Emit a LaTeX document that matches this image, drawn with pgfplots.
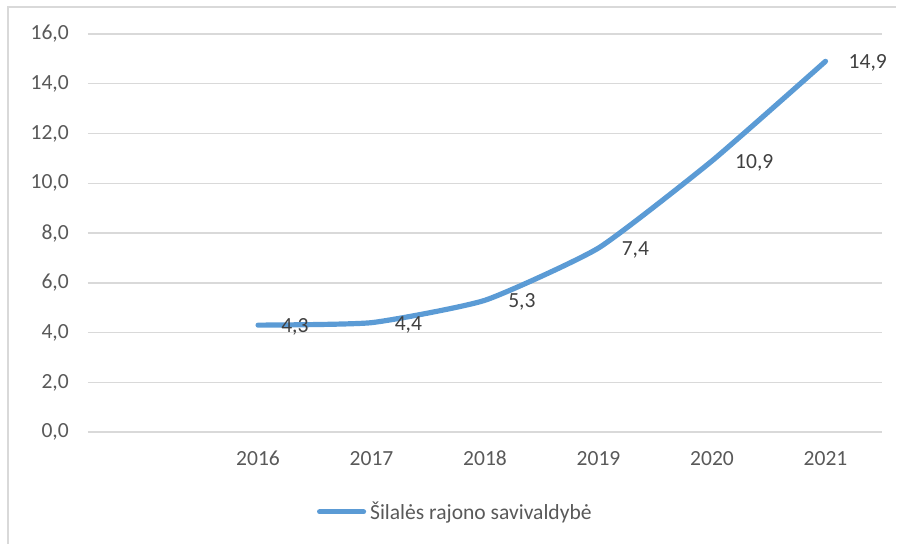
\documentclass[border=0pt]{standalone}
\usepackage{fontspec}
\setmainfont{Carlito}
\usepackage{pgfplots}
\pgfplotsset{compat=1.18}
\definecolor{lineblue}{HTML}{5B9BD5}
\definecolor{gridgrey}{HTML}{D9D9D9}
\definecolor{ticktext}{HTML}{595959}
\definecolor{labeltext}{HTML}{404040}
\begin{document}
\begin{tikzpicture}
\begin{axis}[
  name=ax,
  at={(0,0)}, anchor=south west,
  scale only axis,
  width=398pt, height=199.5pt,
  xmin=-0.5, xmax=6.5,
  ymin=0, ymax=16,
  xtick={1,2,3,4,5,6},
  xticklabels={2016,2017,2018,2019,2020,2021},
  ytick={0,2,4,6,8,10,12,14,16},
  axis line style={draw=none},
  major tick length=0pt,
  ymajorgrids,
  grid style={gridgrey, line width=0.75pt},
  font=\fontsize{10.8}{13}\selectfont,
  tick label style={ticktext, font=\fontsize{10.8}{13}\selectfont},
  yticklabel style={xshift=-6pt},
  xticklabel style={yshift=-6pt},
  /pgf/number format/assume math mode=true,
  /pgf/number format/.cd, fixed, fixed zerofill, precision=1, use comma, 1000 sep={},
  /pgfplots/.cd,
  legend style={at={(0.288,-0.2)}, anchor=west, draw=none, fill=none,
    inner sep=0pt, font=\fontsize{10.8}{13}\selectfont, text=ticktext,
    /tikz/every even column/.append style={column sep=0pt}},
  legend image code/.code={\draw[#1, line cap=round] (0pt,0pt) -- (22pt,0pt);},
  clip=false,
]
\addplot[lineblue, line width=2.6pt, line cap=round, line join=round, smooth, tension=0.3,
  nodes near coords, point meta=explicit,
  every node near coord/.append style={anchor=west, xshift=7pt, yshift=-1pt, text=labeltext,
    font=\fontsize{10.8}{13}\selectfont,
    /pgf/number format/fixed, /pgf/number format/fixed zerofill, /pgf/number format/precision=1, /pgf/number format/use comma}]
  coordinates {(1,4.3)[4.3] (2,4.4)[4.4] (3,5.3)[5.3] (4,7.4)[7.4] (5,10.9)[10.9] (6,14.9)[14.9]};
\addlegendentry{Šilalės rajono savivaldybė}
\end{axis}
\path (-44pt,-55.5pt) rectangle (404.5pt,216.5pt);
\draw[gridgrey, line width=0.75pt] (-40pt,-56pt) -- (-40pt,213pt) -- (405pt,213pt);
\end{tikzpicture}
\end{document}
